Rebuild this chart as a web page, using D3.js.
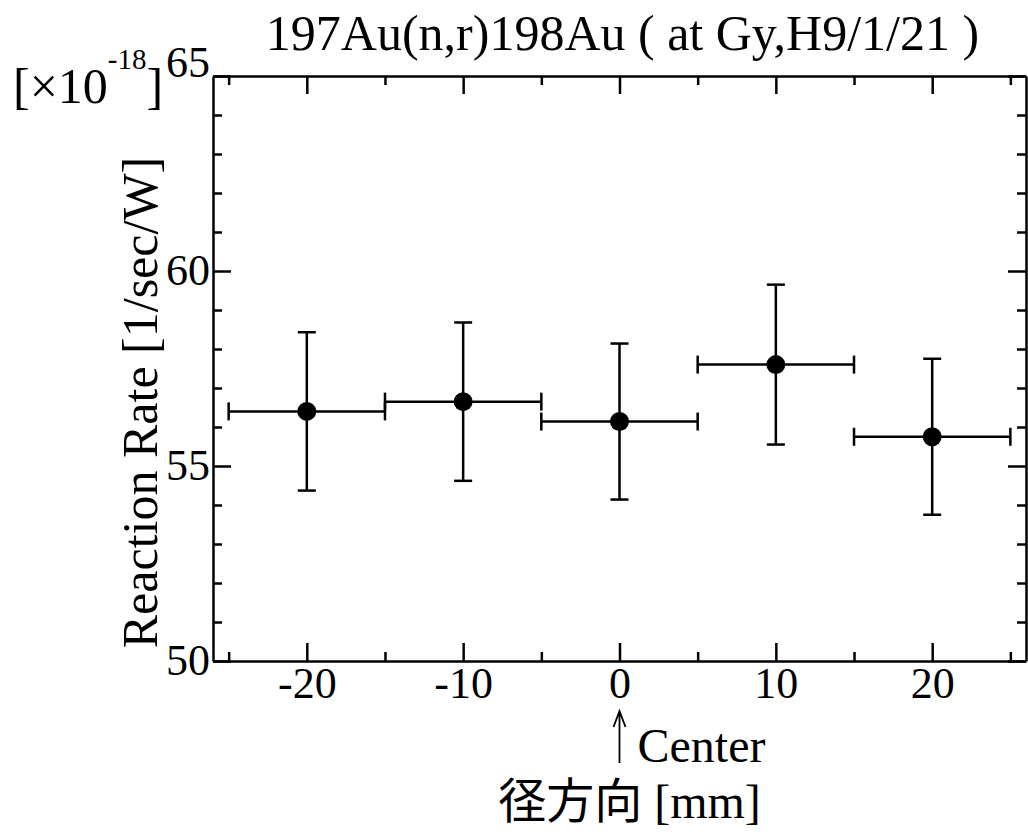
<!DOCTYPE html>
<html>
<head>
<meta charset="utf-8">
<script src="https://cdn.jsdelivr.net/npm/d3@7"></script>
<style>
body { margin: 0; background: #fff; }
text { font-family: "Liberation Serif", "Times New Roman", "Noto Sans CJK JP", serif; fill: #000; }
.axis path, .axis line { stroke: #000; stroke-width: 2.5; }
</style>
</head>
<body>
<div id="chart"></div>
<script>
// radial positions [mm] and measured reaction rates [x1e-18 1/sec/W]
var positions = [-20, -10, 0, 10, 20];
var binHalfWidths = [5, 5, 5, 5, 5];
var rates = [56.40, 56.65, 56.14, 57.60, 55.75];
var rateErrors = [2.03, 2.03, 2.00, 2.05, 2.00];

var xMajorTicks = [-20, -10, 0, 10, 20];
var xMinorTicks = [-25, -15, -5, 5, 15, 25];
var yMajorTicks = [50, 55, 60, 65];
var yMinorTicks = [51, 52, 53, 54, 56, 57, 58, 59, 61, 62, 63, 64];
var xTickLabels = ["-20", "-10", "0", "10", "20"];
var yTickLabels = ["50", "55", "60", "65"];

var titleText = "197Au(n,r)198Au ( at Gy,H9/1/21 )";
var yLabelText = "Reaction Rate [1/sec/W]";
var xLabelText = "径方向 [mm]";

drawChart();

function drawChart() {
	var margin = {top: 76, right: 2, bottom: 178, left: 213},
		totalWidth = 1028,
		totalHeight = 839,
		width = totalWidth - margin.left - margin.right,
		height = totalHeight - margin.top - margin.bottom;

	var svg = d3.select("#chart")
		.append("svg")
		.attr("width", totalWidth)
		.attr("height", totalHeight)
		.append("g")
		.attr("transform", "translate(" + margin.left + "," + margin.top + ")");

	var x = d3.scaleLinear().domain([-26, 26]).range([0, width]);
	var y = d3.scaleLinear().domain([50, 65]).range([height, 0]);

	// bottom axis with labels
	var bottom = svg.append("g")
		.attr("class", "axis")
		.attr("transform", "translate(0," + height + ")")
		.call(d3.axisBottom(x).tickValues(xMajorTicks).tickSize(-18).tickSizeOuter(0)
			.tickFormat(function (d, i) { return xTickLabels[i]; }));
	bottom.selectAll("text")
		.attr("y", 37)
		.attr("dy", 0)
		.style("font-size", "44px");
	svg.append("g")
		.attr("class", "axis")
		.attr("transform", "translate(0," + height + ")")
		.call(d3.axisBottom(x).tickValues(xMinorTicks).tickSize(-9).tickFormat(""))
		.select(".domain").remove();

	// top axis, ticks only
	svg.append("g")
		.attr("class", "axis")
		.call(d3.axisTop(x).tickValues(xMajorTicks).tickSize(-18).tickSizeOuter(0).tickFormat(""));
	svg.append("g")
		.attr("class", "axis")
		.call(d3.axisTop(x).tickValues(xMinorTicks).tickSize(-9).tickFormat(""))
		.select(".domain").remove();

	// left axis with labels
	var left = svg.append("g")
		.attr("class", "axis")
		.call(d3.axisLeft(y).tickValues(yMajorTicks).tickSize(-18).tickSizeOuter(0)
			.tickFormat(function (d, i) { return yTickLabels[i]; }));
	left.selectAll("text")
		.attr("x", -3)
		.attr("dy", function (d) { return d === 65 ? "0" : "0.3em"; })
		.style("font-size", "44px");
	svg.append("g")
		.attr("class", "axis")
		.call(d3.axisLeft(y).tickValues(yMinorTicks).tickSize(-9).tickFormat(""))
		.select(".domain").remove();

	// right axis, ticks only
	svg.append("g")
		.attr("class", "axis")
		.attr("transform", "translate(" + width + ",0)")
		.call(d3.axisRight(y).tickValues(yMajorTicks).tickSize(-18).tickSizeOuter(0).tickFormat(""));
	svg.append("g")
		.attr("class", "axis")
		.attr("transform", "translate(" + width + ",0)")
		.call(d3.axisRight(y).tickValues(yMinorTicks).tickSize(-9).tickFormat(""))
		.select(".domain").remove();

	var data = positions.map(function (p, i) {
		return {x: p, dx: binHalfWidths[i], y: rates[i], dy: rateErrors[i]};
	});
	var cap = 9;

	var marks = svg.append("g")
		.attr("stroke", "#000")
		.attr("stroke-width", 2.5)
		.selectAll("g")
		.data(data)
		.enter().append("g");

	// horizontal bin bars
	marks.append("line")
		.attr("x1", function (d) { return x(d.x - d.dx); })
		.attr("x2", function (d) { return x(d.x + d.dx); })
		.attr("y1", function (d) { return y(d.y); })
		.attr("y2", function (d) { return y(d.y); });
	marks.append("line")
		.attr("x1", function (d) { return x(d.x - d.dx); })
		.attr("x2", function (d) { return x(d.x - d.dx); })
		.attr("y1", function (d) { return y(d.y) - cap; })
		.attr("y2", function (d) { return y(d.y) + cap; });
	marks.append("line")
		.attr("x1", function (d) { return x(d.x + d.dx); })
		.attr("x2", function (d) { return x(d.x + d.dx); })
		.attr("y1", function (d) { return y(d.y) - cap; })
		.attr("y2", function (d) { return y(d.y) + cap; });

	// vertical error bars
	marks.append("line")
		.attr("x1", function (d) { return x(d.x); })
		.attr("x2", function (d) { return x(d.x); })
		.attr("y1", function (d) { return y(d.y - d.dy); })
		.attr("y2", function (d) { return y(d.y + d.dy); });
	marks.append("line")
		.attr("x1", function (d) { return x(d.x) - cap; })
		.attr("x2", function (d) { return x(d.x) + cap; })
		.attr("y1", function (d) { return y(d.y + d.dy); })
		.attr("y2", function (d) { return y(d.y + d.dy); });
	marks.append("line")
		.attr("x1", function (d) { return x(d.x) - cap; })
		.attr("x2", function (d) { return x(d.x) + cap; })
		.attr("y1", function (d) { return y(d.y - d.dy); })
		.attr("y2", function (d) { return y(d.y - d.dy); });

	marks.append("circle")
		.attr("cx", function (d) { return x(d.x); })
		.attr("cy", function (d) { return y(d.y); })
		.attr("r", 9.5)
		.attr("fill", "#000")
		.attr("stroke", "none");

	// title
	svg.append("text")
		.attr("x", x(0) + 3)
		.attr("y", -26)
		.attr("text-anchor", "middle")
		.style("font-size", "50px")
		.text(titleText);

	// exponent label
	var expo = svg.append("text")
		.attr("x", -200)
		.attr("y", 27)
		.style("font-size", "50px");
	expo.append("tspan").text("[×10");
	expo.append("tspan").attr("dy", -34).style("font-size", "29px").text("-18");
	expo.append("tspan").attr("dy", 34).text("]");

	// y axis title
	svg.append("text")
		.attr("transform", "translate(-56," + (y(57.5) + 34) + ") rotate(-90)")
		.attr("text-anchor", "middle")
		.style("font-size", "50px")
		.text(yLabelText);

	// center marker
	var cx = x(0);
	svg.append("path")
		.attr("d", "M" + cx + "," + (height + 102) + "V" + (height + 50)
			+ "M" + (cx - 6) + "," + (height + 66) + "L" + cx + "," + (height + 50) + "L" + (cx + 6) + "," + (height + 66))
		.attr("fill", "none")
		.attr("stroke", "#000")
		.attr("stroke-width", 1.8);
	svg.append("text")
		.attr("x", cx + 18)
		.attr("y", height + 101)
		.style("font-size", "48px")
		.text("Center");

	// x axis title
	svg.append("text")
		.attr("x", x(0) + 10)
		.attr("y", height + 157)
		.attr("text-anchor", "middle")
		.style("font-size", "48px")
		.text(xLabelText);
}
</script>
</body>
</html>
